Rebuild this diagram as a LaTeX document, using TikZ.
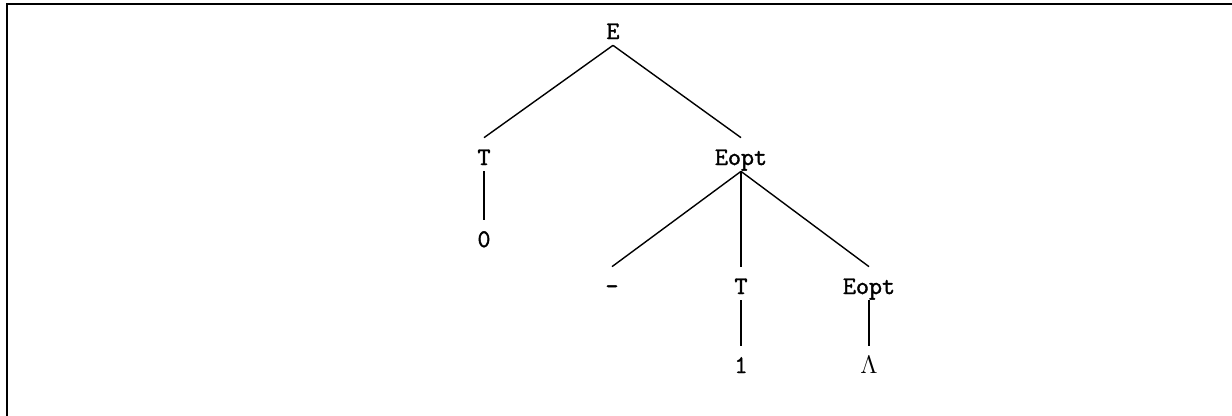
\documentclass[tikz,border=0pt]{standalone}
\usepackage{fontspec}
\usepackage{tikz}
\usetikzlibrary{positioning}

\newfontfamily\treefont[FakeBold=1.6]{Latin Modern Mono}

\tikzset{
  sym/.style={font=\fontsize{14.4}{17}\selectfont\treefont, anchor=base,
    text height=0.5cm, text depth=0.08cm, inner sep=0.04cm},
  branch/.style={line width=0.8pt}
}

\begin{document}
\begin{tikzpicture}[x=0.02cm, y=-0.02cm]

% Page and frame (cut at the right and bottom)
\useasboundingbox (0,0) rectangle (1232,416);
\clip (0,0) rectangle (1232,416);
\draw[line width=1.1pt] (7,430) -- (7,4.3) -- (1245,4.3);

% Symbols of the parse tree
\node[sym] (e)      at (613,39)  {E};
\node[sym] (t)      at (484,165) {T};
\node[sym] (eopt)   at (741,165) {Eopt};
\node[sym] (zero)   at (484,247) {0};
\node[sym] (minus)  at (612,294) {-};
\node[sym] (tt)     at (741,294) {T};
\node[sym] (eoptt)  at (869,294) {Eopt};
\node[sym] (one)    at (741,373) {1};
\node[sym] (lambda) at (869,373) {$\Lambda$};

% Branches
\draw[branch] (e.south) -- (t.north);
\draw[branch] (e.south) -- (eopt.north);
\draw[branch] (t.south) -- (zero.north);
\draw[branch] (eopt.south) -- (minus.north);
\draw[branch] (eopt.south) -- (tt.north);
\draw[branch] (eopt.south) -- (eoptt.north);
\draw[branch] (tt.south) -- (one.north);
\draw[branch] (eoptt.south) -- (lambda.north);

\end{tikzpicture}
\end{document}
